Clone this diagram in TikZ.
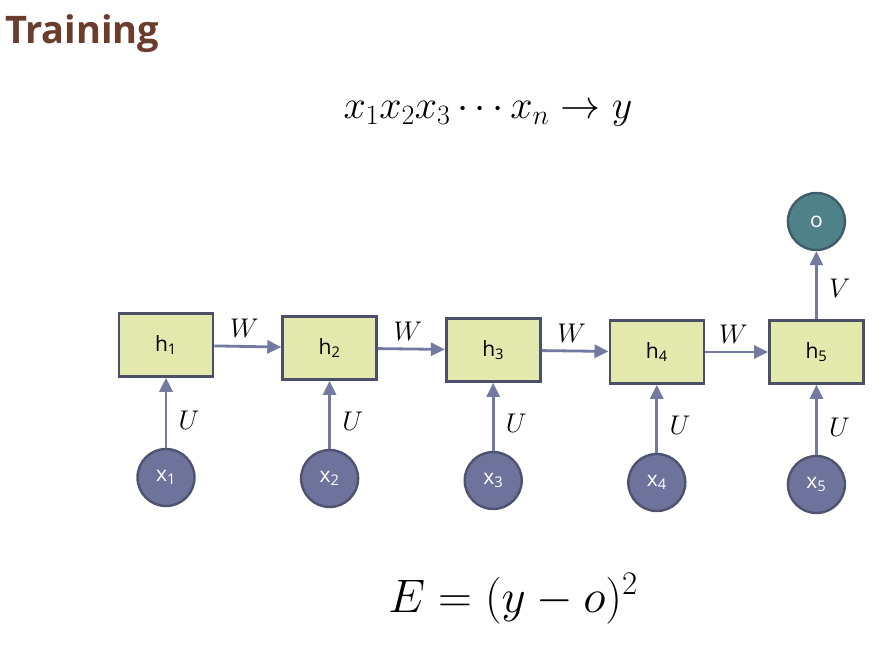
\RequirePackage{fix-cm}
\documentclass[tikz,border=0pt]{standalone}
\usepackage{amsmath}
\usepackage{fontspec}
\setsansfont{Open Sans}
\usetikzlibrary{arrows.meta,positioning}
\definecolor{Cell}{HTML}{E3E8AD}
\definecolor{CellLine}{HTML}{4B4F68}
\definecolor{Input}{HTML}{6E739C}
\definecolor{InputLine}{HTML}{4E5372}
\definecolor{Output}{HTML}{4F8189}
\definecolor{OutputLine}{HTML}{3F5C68}
\definecolor{Link}{HTML}{737AA2}
\definecolor{Heading}{HTML}{6B3D2C}

\begin{document}
\begin{tikzpicture}[
  x=1pt,y=-1pt,
  cell/.style={draw=CellLine,fill=Cell,line width=2.6pt,minimum width=94pt,minimum height=63pt,inner sep=0pt,font=\sffamily\fontsize{21}{24}\selectfont},
  unit/.style={circle,draw=InputLine,fill=Input,line width=2.4pt,minimum size=57pt,inner sep=0pt,text=white,font=\sffamily\fontsize{21}{24}\selectfont},
  outunit/.style={unit,draw=OutputLine,fill=Output},
  link/.style={-{Triangle[length=14pt,width=13pt]},line width=2.8pt,draw=Link},
  wt/.style={font=\fontsize{27}{30}\selectfont}
]
  \useasboundingbox (0,0) rectangle (885,658);
  \node[anchor=base west,font=\sffamily\bfseries\fontsize{38}{44}\selectfont,text=Heading,inner sep=0pt] (title) at (5,44) {Training};
  \node[anchor=base,inner sep=0pt,font=\fontsize{40}{44}\selectfont] (seq) at (488,118) {$x_1x_2x_3\cdots x_n\rightarrow y$};
  \node[anchor=base,inner sep=0pt,font=\fontsize{47}{52}\selectfont] (loss) at (513,612) {$E=(y-o)^2$};

  \node[cell] (h1) at (166,345) {h\textsubscript{1}};
  \node[cell,right=67pt of h1,yshift=-3pt] (h2) {h\textsubscript{2}};
  \node[cell,right=67pt of h2,yshift=-2pt] (h3) {h\textsubscript{3}};
  \node[cell,right=67pt of h3,yshift=-2pt] (h4) {h\textsubscript{4}};
  \node[cell,right=63pt of h4] (h5) {h\textsubscript{5}};

  \node[unit,below=70pt of h1] (x1) {x\textsubscript{1}};
  \node[unit,below=68pt of h2] (x2) {x\textsubscript{2}};
  \node[unit,below=68pt of h3] (x3) {x\textsubscript{3}};
  \node[unit,below=68pt of h4] (x4) {x\textsubscript{4}};
  \node[unit,below=70pt of h5] (x5) {x\textsubscript{5}};
  \node[outunit,above=68pt of h5] (o) {o};

  % recurrent weights
  \draw[link] (h1) -- node[wt,pos=0.45,above=4pt] {$W$} (h2);
  \draw[link] (h2) -- node[wt,pos=0.45,above=4pt] {$W$} (h3);
  \draw[link] (h3) -- node[wt,pos=0.45,above=4pt] {$W$} (h4);
  \draw[link] (h4) -- node[wt,pos=0.45,above=4pt] {$W$} (h5);
  % input weights
  \foreach \i in {1,...,5}
    \draw[link] (x\i) -- node[wt,pos=0.4,right=8pt] {$U$} (h\i);
  \draw[link] (h5) -- node[wt,pos=0.45,right=8pt] {$V$} (o);
\end{tikzpicture}
\end{document}
